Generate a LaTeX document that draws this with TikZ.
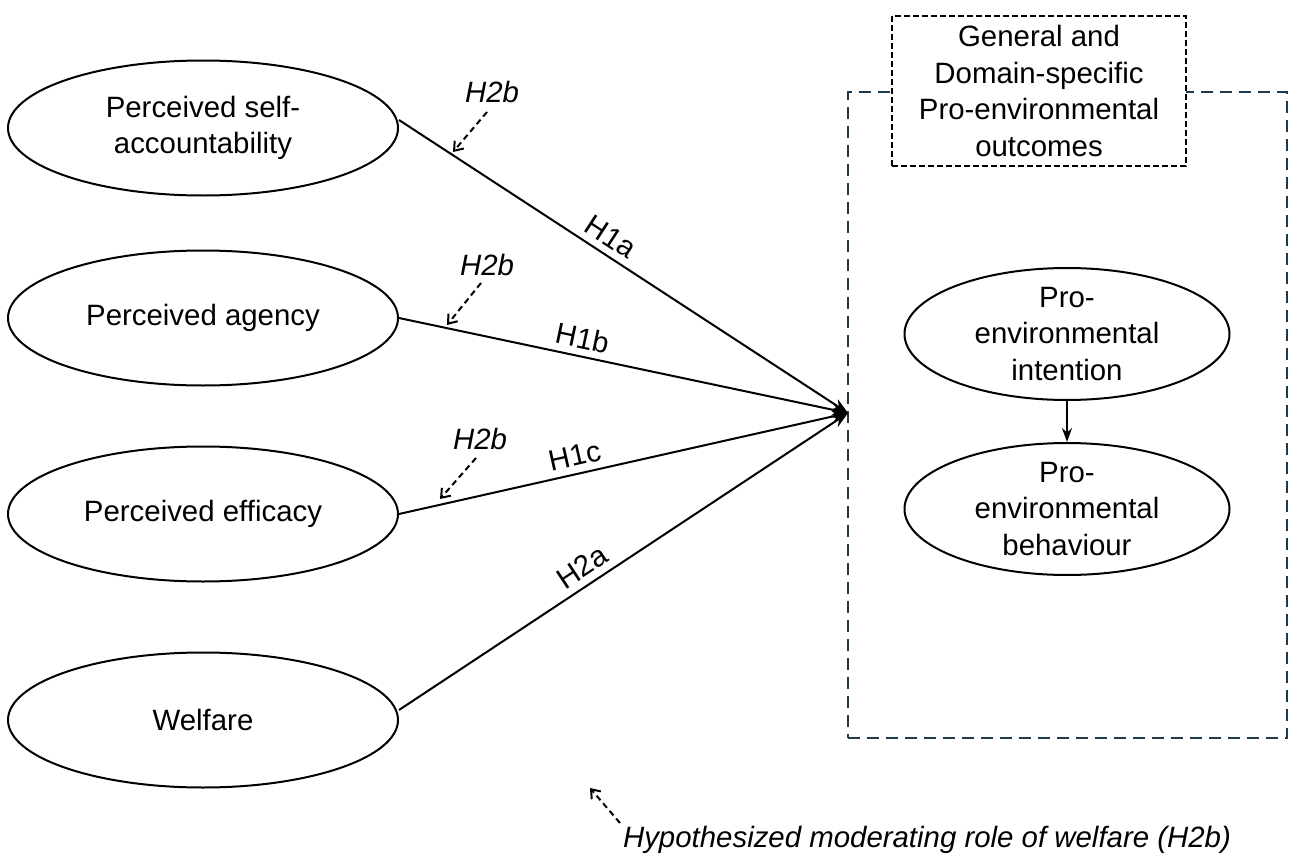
\documentclass[tikz,border=0pt]{standalone}
\usepackage{fontspec}
\setmainfont{Liberation Sans}
\usetikzlibrary{arrows.meta,shapes.geometric}
\definecolor{boxslate}{HTML}{1F3A4A}
\begin{document}
\begin{tikzpicture}[x=0.5pt,y=-0.5pt,
  font=\fontsize{14.7}{18.2}\selectfont,
  construct/.style={ellipse,draw,line width=1pt,minimum width=195pt,minimum height=67.5pt,inner sep=0pt,align=center},
  outcome/.style={ellipse,draw,line width=1pt,minimum width=162.5pt,minimum height=61pt,inner sep=0pt,align=center},
  path/.style={line width=1pt,-{Stealth[length=8pt,width=6pt]}},
  modarrow/.style={line width=1pt,dash pattern=on 3pt off 2pt,-{Straight Barb[length=4pt,width=6pt]}},
  hlabel/.style={font=\fontsize{14.7}{18.2}\selectfont\itshape}
]
\useasboundingbox (0,0) rectangle (1292,862);
% outcome boxes
\node[draw=boxslate,line width=1pt,dash pattern=on 6pt off 3.5pt,minimum width=219.5pt,minimum height=323pt,inner sep=0pt] (outer) at (1067.5,415) {};
\node[draw,fill=white,line width=1pt,dash pattern=on 3pt off 1.5pt,minimum width=147pt,minimum height=75pt,inner sep=0pt,align=center] (title) at (1039,91) {General and\\Domain-specific\\Pro-environmental\\outcomes};
% constructs
\node[construct] (acc) at (203,128) {Perceived self-\\accountability};
\node[construct] (agn) at (203,318) {Perceived agency};
\node[construct] (eff) at (203,514) {Perceived efficacy};
\node[construct] (wel) at (203,720) {Welfare};
\node[outcome] (int) at (1067,334) {Pro-\\environmental\\intention};
\node[outcome] (beh) at (1067,509) {Pro-\\environmental\\behaviour};
\coordinate (hub) at (848,413);
% paths
\draw[path] ([yshift=4pt]acc.east) -- node[pos=0.45,above,sloped] (h1a) {H1a} (hub);
\draw[path] (agn.east) -- node[pos=0.40,above,sloped] (h1b) {H1b} (hub);
\draw[path] (eff.east) -- node[pos=0.40,above,sloped] (h1c) {H1c} (hub);
\draw[path] ([yshift=5pt]wel.east) -- node[pos=0.43,above,sloped] (h2a) {H2a} (hub);
\draw[line width=1pt,-{Stealth[length=7pt,width=5pt]}] (int) -- (beh);
% moderation labels
\node[hlabel] (m1) at (492,92) {H2b};
\coordinate (m1s) at (487,112); \coordinate (m1e) at (453,152);
\draw[modarrow] (m1s) -- (m1e);
\node[hlabel] (m2) at (487,265) {H2b};
\coordinate (m2s) at (481,283); \coordinate (m2e) at (447,325);
\draw[modarrow] (m2s) -- (m2e);
\node[hlabel] (m3) at (480,439) {H2b};
\coordinate (m3s) at (476,458); \coordinate (m3e) at (440,499);
\draw[modarrow] (m3s) -- (m3e);
% legend
\coordinate (ls) at (620,823); \coordinate (le) at (590,788);
\draw[modarrow] (ls) -- (le);
\node[hlabel,anchor=west] (legend) at (616,840) {Hypothesized moderating role of welfare (H2b)};
\end{tikzpicture}
\end{document}
